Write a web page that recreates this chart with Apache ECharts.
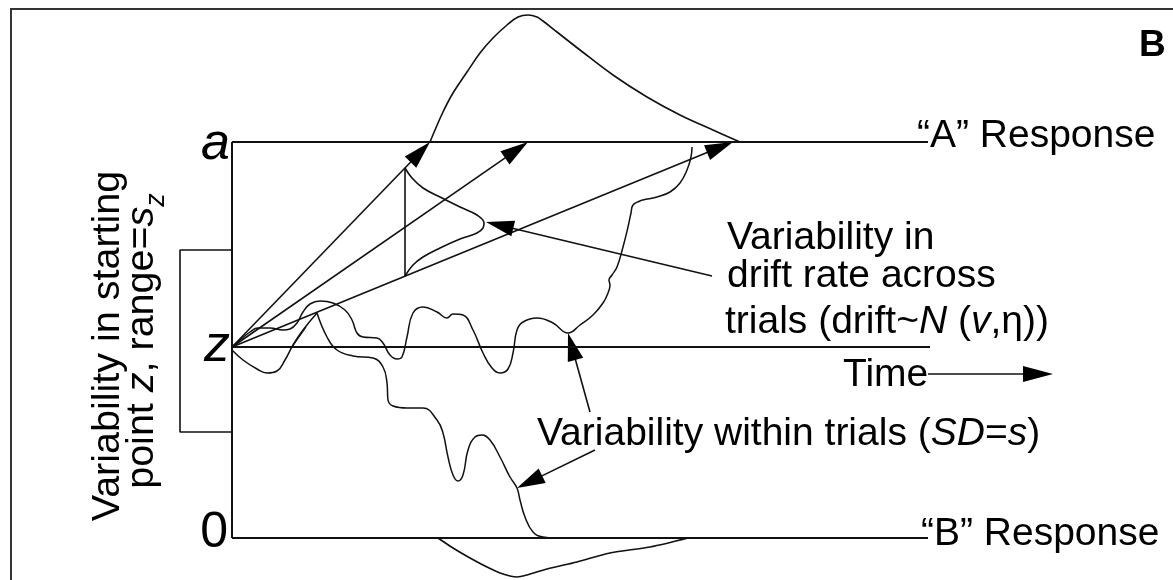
<!DOCTYPE html>
<html>
<head>
<meta charset="utf-8">
<script src="https://cdn.jsdelivr.net/npm/echarts@6/dist/echarts.min.js"></script>
<style>
  html, body { margin: 0; padding: 0; background: #fff; }
  #chart { width: 1173px; height: 580px; }
</style>
</head>
<body>
<div id="chart"></div>
<script>
// Diffusion model schematic.
// x: time since the start of the trial; y: accumulated evidence (0 = lower boundary, a = upper boundary).
const boundaryA = 396;              // a
const startZ = 191;                 // z
const boundaryEnd = 696;            // right end of the boundary lines
const timeAxisEnd = 698;
const startRange = [106, 288];      // range of starting points, s_z
const bracketLeft = -52;

// Drift rates for three trials (end points on the "A" boundary)
const driftEnds = [[198, 396], [296, 396], [501, 396]];
// Spread of drift rates at one moment in time
const driftSpread = [[173, 370], [173, 262]];
const driftDensity = [[173, 370], [180, 360], [191, 350], [208, 341], [228, 331], [245, 323], [252, 315],
  [251, 310], [245, 305], [228, 299], [208, 290], [191, 281], [181, 273], [173, 262]];

// Finishing-time distributions at each boundary
const rtDensityA = [[198, 396], [203, 408], [211, 426], [221, 445], [235, 466], [248, 485], [261, 500],
  [275, 513], [286, 521], [296, 523], [305, 521], [311, 517], [325, 506], [348, 488], [381, 463],
  [415, 441], [448, 423], [481, 408], [508, 396]];
const rtDensityB = [[206, 0], [221, -10], [238, -20], [255, -29], [271, -36], [285, -39], [295, -37],
  [315, -31], [345, -24], [378, -15], [418, -9], [456, 0]];

// Noisy sample paths within trials
const pathToA = [[0, 191], [8, 198], [18, 206], [26, 210], [38, 210], [51, 208], [58, 209], [65, 215],
  [71, 226], [78, 234], [88, 237], [101, 235], [113, 228], [120, 218], [125, 205], [131, 201], [145, 200],
  [151, 195], [158, 183], [165, 179], [170, 181], [175, 201], [181, 225], [191, 231], [205, 226],
  [215, 220], [221, 224], [231, 223], [241, 208], [251, 185], [260, 170], [268, 165], [276, 169],
  [281, 185], [285, 208], [291, 216], [305, 220], [321, 215], [336, 205], [348, 213], [361, 223],
  [371, 235], [376, 245], [378, 253], [377, 258], [380, 263], [385, 271], [391, 291], [396, 311],
  [399, 325], [401, 333], [408, 337], [411, 338], [425, 341], [438, 346], [448, 355], [455, 368],
  [459, 381], [460, 391]];
const pathToBRise = [[0, 188], [11, 178], [25, 169], [35, 165], [45, 167], [53, 178], [61, 193],
  [71, 208], [85, 225]];
const pathToBFall = [[85, 225], [95, 201], [105, 188], [121, 182], [141, 180], [151, 171], [155, 155],
  [156, 138], [161, 132], [175, 130], [191, 130], [205, 118], [211, 105], [216, 81], [221, 63],
  [226, 57], [231, 63], [236, 88], [243, 101], [250, 103], [258, 98], [268, 81], [278, 61], [285, 50],
  [288, 38], [293, 21], [301, 6], [311, 1], [323, 0]];
const pathStroke = [[60, 191], [74, 211]];

// Pointer arrows: [fromTime, fromEvidence, toTime, toEvidence]
const annotationArrows = [[480, 262, 254, 316], [358, 126, 336, 205], [363, 88, 285, 50]];
const timeArrow = [[696, 164, 821, 164]];

const INK = '#111';
const FONT = '"Liberation Sans", Arial, Helvetica, sans-serif';
const TEXT_SIZE = 39;

function lineSeries(data, width, smooth) {
  return {
    type: 'line', data: data, showSymbol: false, symbol: 'none',
    smooth: smooth || false, silent: true, clip: false,
    lineStyle: { color: INK, width: width }
  };
}

function arrowRenderer(headLen, headHalf, width) {
  return function (params, api) {
    const p1 = api.coord([api.value(0), api.value(1)]);
    const p2 = api.coord([api.value(2), api.value(3)]);
    const dx = p2[0] - p1[0], dy = p2[1] - p1[1];
    const len = Math.hypot(dx, dy);
    const ux = dx / len, uy = dy / len;
    const bx = p2[0] - ux * headLen, by = p2[1] - uy * headLen;
    return {
      type: 'group',
      children: [
        { type: 'line', shape: { x1: p1[0], y1: p1[1], x2: bx + ux * 2, y2: by + uy * 2 },
          style: { stroke: INK, lineWidth: width } },
        { type: 'polygon',
          shape: { points: [[p2[0], p2[1]], [bx - uy * headHalf, by + ux * headHalf], [bx + uy * headHalf, by - ux * headHalf]] },
          style: { fill: '#000' } }
      ]
    };
  };
}

function arrowSeries(data, headLen, headHalf, width) {
  return {
    type: 'custom', coordinateSystem: 'cartesian2d', silent: true, clip: false,
    data: data, encode: { x: [0, 2], y: [1, 3] },
    renderItem: arrowRenderer(headLen, headHalf, width)
  };
}

function txt(x, y, text, opts) {
  opts = opts || {};
  return {
    type: 'text', x: x, y: y, rotation: opts.rotation || 0, silent: true,
    style: {
      text: text, x: 0, y: 0,
      fill: '#000',
      fontFamily: FONT,
      fontSize: opts.size || TEXT_SIZE,
      fontStyle: opts.italic ? 'italic' : 'normal',
      fontWeight: opts.bold ? 'bold' : 'normal',
      align: opts.align || 'left',
      verticalAlign: 'middle',
      rich: opts.rich
    }
  };
}

const italic = { fontFamily: FONT, fontSize: TEXT_SIZE, fontStyle: 'italic' };
const italicSide = { fontFamily: FONT, fontSize: 39.5, fontStyle: 'italic' };

const chart = echarts.init(document.getElementById('chart'), null, { renderer: 'canvas' });

const zeroLine = [[0, 0], [boundaryEnd, 0]];
const aLine = [[0, boundaryA], [boundaryEnd, boundaryA]];
const zLine = [[0, startZ], [timeAxisEnd, startZ]];
const evidenceAxis = [[0, 0], [0, boundaryA]];
const startBracket = [[0, startRange[1]], [bracketLeft, startRange[1]], [bracketLeft, startRange[0]], [0, startRange[0]]];

chart.setOption({
  animation: false,
  backgroundColor: '#fff',
  grid: { left: 0, right: 0, top: 0, bottom: 0, containLabel: false },
  xAxis: { type: 'value', min: -232, max: 941, show: false },
  yAxis: { type: 'value', min: -42, max: 538, show: false },
  series: [
    lineSeries(aLine, 2),
    lineSeries(zeroLine, 2),
    lineSeries(zLine, 2),
    lineSeries(evidenceAxis, 2),
    lineSeries(startBracket, 1.6),
    lineSeries(driftSpread, 1.6),
    lineSeries(driftDensity, 1.6, 0.4),
    lineSeries(rtDensityA, 1.6, 0.4),
    lineSeries(rtDensityB, 1.6, 0.3),
    lineSeries(pathToA, 1.5, 0.45),
    lineSeries(pathToBRise, 1.5, 0.45),
    lineSeries(pathToBFall, 1.5, 0.45),
    lineSeries(pathStroke, 1.3),
    arrowSeries(driftEnds.map(function (e) { return [0, startZ, e[0], e[1]]; }), 28, 8, 1.6),
    arrowSeries(annotationArrows, 28, 8, 1.6),
    arrowSeries(timeArrow, 30, 8, 1.6)
  ],
  graphic: [
    { type: 'rect', silent: true, shape: { x: 11, y: 9, width: 1170, height: 580 },
      style: { fill: 'none', stroke: '#333', lineWidth: 2 } },
    txt(1139, 46, 'B', { bold: true, size: 37 }),
    txt(230, 145, 'a', { italic: true, size: 52, align: 'right' }),
    txt(230, 347, 'z', { italic: true, size: 52, align: 'right' }),
    txt(228, 533, '0', { size: 50, align: 'right' }),
    txt(917, 136, '\u201CA\u201D Response'),
    txt(921, 534, '\u201CB\u201D Response'),
    txt(727, 238, 'Variability in'),
    txt(727, 276, 'drift rate across'),
    txt(725, 322, 'trials (drift~{i|N} ({i|v},\u03B7))', { rich: { i: italic } }),
    txt(843, 375, 'Time'),
    txt(537, 434, 'Variability within trials ({i|SD}={i|s})', { rich: { i: italic } }),
    txt(108, 346, 'Variability in starting', { align: 'center', rotation: Math.PI / 2, size: 39.5 }),
    txt(142, 341, 'point {i|z}, range={i|s}{sub|z}', {
      align: 'center', rotation: Math.PI / 2, size: 39.5,
      rich: {
        i: italicSide,
        sub: { fontFamily: FONT, fontSize: 27, fontStyle: 'italic', verticalAlign: 'bottom', lineHeight: 26, padding: [0, 0, -8, 0] }
      }
    })
  ]
});
</script>
</body>
</html>
